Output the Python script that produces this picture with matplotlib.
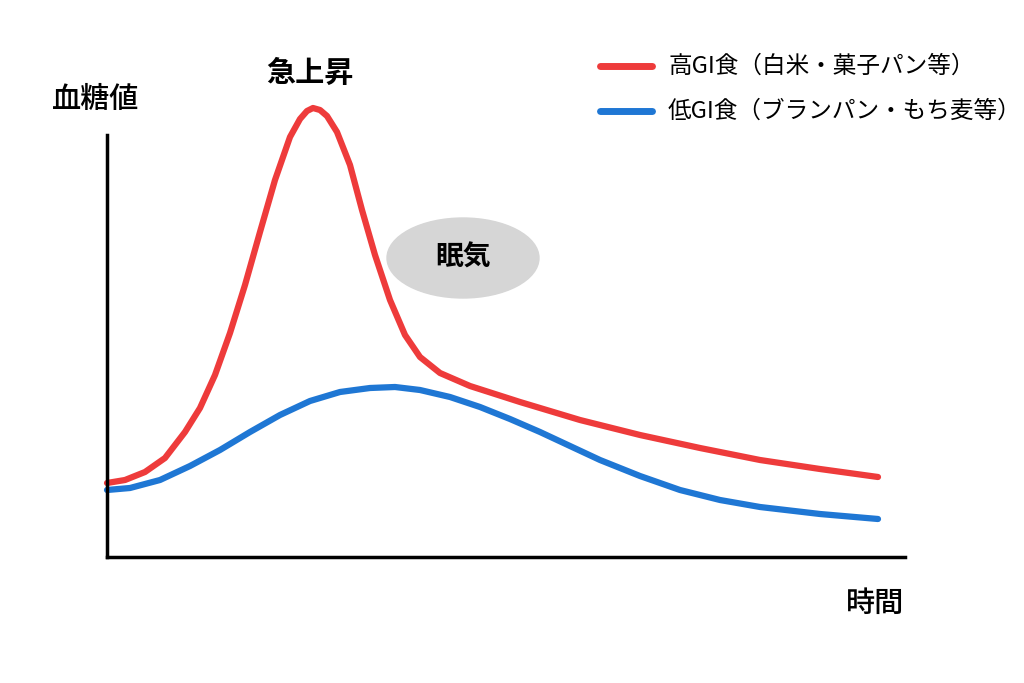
import matplotlib.pyplot as plt
from matplotlib.patches import Ellipse

plt.rcParams['font.family'] = ['Noto Sans CJK JP', 'DejaVu Sans']

# curve points (x: px from left, y: px above the baseline)
high_x = [107, 125, 145, 165, 185, 200, 215, 230, 245, 260, 275, 290, 300, 307, 313, 320, 327, 337,
          350, 362, 375, 390, 405, 420, 440, 470, 520, 580, 640, 700, 760, 820, 878]
high_y = [74, 77, 85, 99, 125, 149, 182, 224, 272, 325, 377, 420, 438, 446, 449, 447, 441, 425,
          392, 347, 302, 257, 222, 200, 184, 171, 155, 137, 122, 109, 97, 88, 80]
low_x = [107, 130, 160, 190, 220, 250, 280, 310, 340, 370, 395, 420, 450, 480, 510, 540,
         570, 600, 640, 680, 720, 760, 820, 878]
low_y = [67, 69, 77, 91, 107, 125, 142, 156, 165, 169, 170, 167, 160, 150, 138, 125,
         111, 97, 81, 67, 57, 50, 43, 38]

red = '#ee3b3b'
blue = '#1f77d4'

fig = plt.figure(figsize=(10.24, 6.83), dpi=100)
ax = fig.add_axes([107 / 1024, 126 / 683, 798 / 1024, 422 / 683])
ax.set_xlim(107, 905)
ax.set_ylim(0, 422)
for s in ['top', 'right']:
    ax.spines[s].set_visible(False)
for s in ['left', 'bottom']:
    ax.spines[s].set_linewidth(2.5)
ax.set_xticks([])
ax.set_yticks([])

ax.plot(high_x, high_y, color=red, lw=4.5, solid_capstyle='round', solid_joinstyle='round', clip_on=False)
ax.plot(low_x, low_y, color=blue, lw=4.5, solid_capstyle='round', solid_joinstyle='round', clip_on=False)

ax.add_patch(Ellipse((463, 299), 152, 80, color='#d6d6d6', clip_on=False))
ax.text(463, 299, '眠気', ha='center', va='center', fontsize=20, weight='bold')

fig.text(52 / 1024, 1 - 100 / 683, '血糖値', ha='left', va='center', fontsize=21, weight='medium')
fig.text(310 / 1024, 1 - 73 / 683, '急上昇', ha='center', va='center', fontsize=21, weight='bold')
fig.text(875 / 1024, 1 - 603 / 683, '時間', ha='center', va='center', fontsize=21, weight='medium')

# legend
for yy, c, t in [(66, red, '高GI食（白米・菓子パン等）'), (111, blue, '低GI食（ブランパン・もち麦等）')]:
    fy = 1 - yy / 683
    fig.add_artist(plt.Line2D([600 / 1024, 652 / 1024], [fy, fy], color=c, lw=5, solid_capstyle='round'))
    fig.text(668 / 1024, fy, t, ha='left', va='center', fontsize=17)

fig.savefig('out.png', dpi=100, facecolor='white')
